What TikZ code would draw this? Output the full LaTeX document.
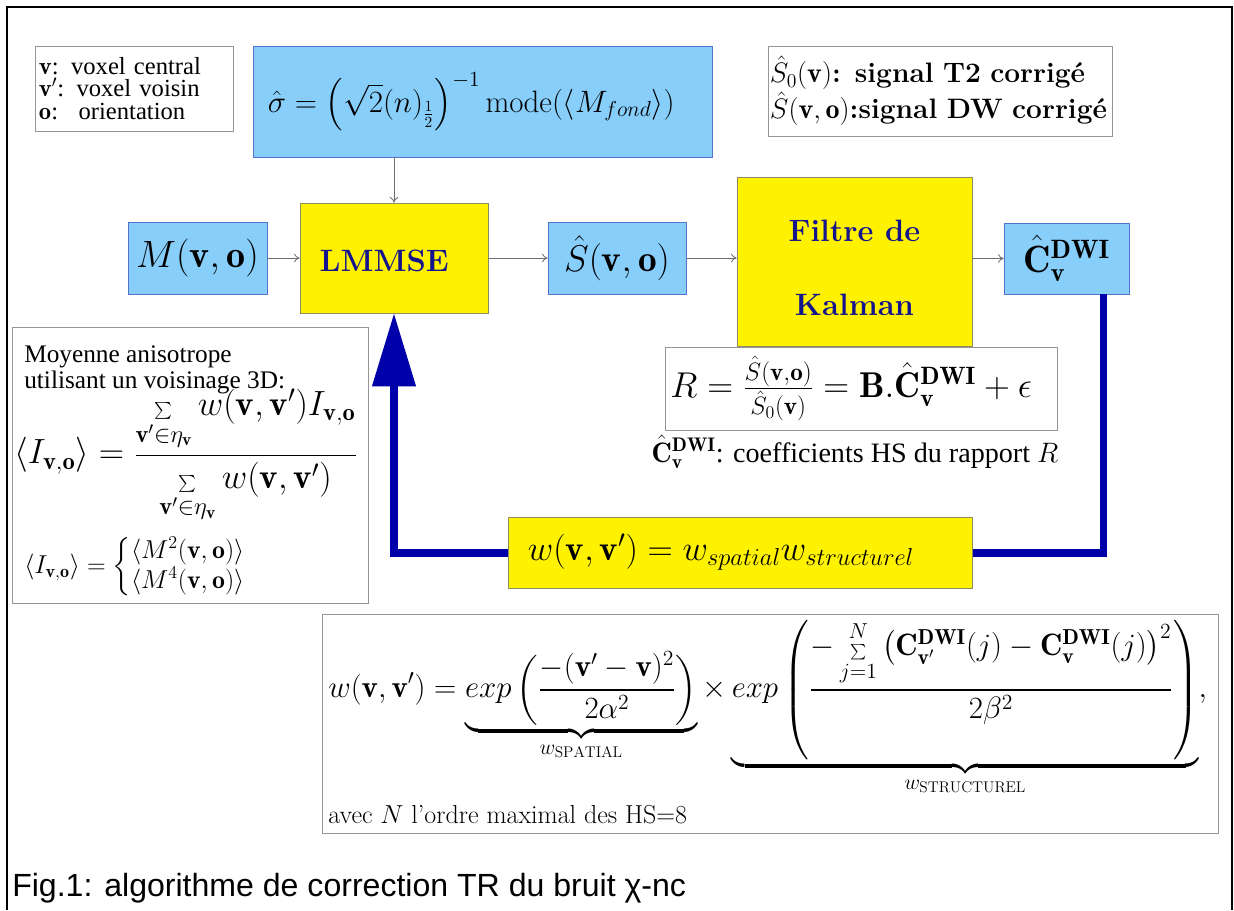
\documentclass[tikz,border=0pt]{standalone}
\usepackage{fix-cm}
\usepackage{amsmath}
\usepackage{fontspec}
\newfontfamily\timesfont{Liberation Serif}
\newfontfamily\arialfont{Liberation Sans}
\usetikzlibrary{arrows.meta}
\definecolor{skyfill}{RGB}{135,206,250}
\definecolor{skyedge}{RGB}{85,115,205}
\definecolor{yedge}{RGB}{140,140,95}
\definecolor{legedge}{RGB}{150,150,150}
\definecolor{flowgray}{RGB}{110,110,110}
\definecolor{fbblue}{RGB}{0,0,170}
\definecolor{procblue}{RGB}{20,20,140}
\newcommand{\bfv}{\mathbf{v}}
\newcommand{\bfo}{\mathbf{o}}
\newcommand{\Cdwi}{\hat{\mathbf{C}}_{\mathbf{v}}^{\mathbf{DWI}}}
\newcommand{\tinysum}{\mathop{\scriptscriptstyle\sum}}
\begin{document}
\begin{tikzpicture}[x=0.025cm,y=-0.025cm,
  bluebox/.style={draw=skyedge, fill=skyfill, inner sep=0pt},
  yellowbox/.style={draw=yedge, fill=yellow, inner sep=0pt},
  legendbox/.style={draw=legedge, fill=white, inner sep=0pt},
  procname/.style={text=procblue, font=\bfseries\fontsize{22}{53}\selectfont, align=center},
  flow/.style={draw=flowgray, line width=0.6pt, -{To[length=4pt,width=6pt]}},
  feedback/.style={draw=fbblue, line width=5pt, -{Triangle[length=52pt,width=30pt]}}]
\useasboundingbox (0,0) rectangle (1234,910);
% cadre
\draw[line width=1.2pt] (7,910) -- (7,7) -- (1232,7) -- (1232,910);

% legendes du haut
\node[legendbox, minimum width=4.95cm, minimum height=2.125cm, text width=4.75cm, align=left, font=\timesfont\fontsize{17.5}{16}\selectfont] (vlegend) at (134,88.5) {$\bfv$: voxel central\\$\bfv'$: voxel voisin\\$\bfo$:~ orientation};
\node[bluebox, minimum width=11.475cm, minimum height=2.775cm, font=\fontsize{22}{26}\selectfont] (sigma) at (482.5,101.5) {$\hat\sigma=\left(\sqrt{2}(n)_{\frac{1}{2}}\right)^{-1}\mathrm{mode}(\langle M_{fond}\rangle)$\kern16pt};
\node[legendbox, minimum width=8.6cm, minimum height=2.25cm, text width=8.5cm, align=left, font=\bfseries\fontsize{20}{25.5}\selectfont] (slegend) at (940,91) {$\hat S_0(\bfv)$: signal T2 corrigé\\$\hat S(\bfv,\bfo)$:signal DW corrigé};

% chaine de traitement
\node[bluebox, minimum width=3.475cm, minimum height=1.8cm, font=\fontsize{27}{31}\selectfont] (Mvo) at (197.5,258) {$M(\bfv,\bfo)$};
\node[yellowbox, minimum width=4.7cm, minimum height=2.75cm, procname, font=\bfseries\fontsize{22}{26}\selectfont] (lmmse) at (394,258) {\rule{0pt}{20pt}LMMSE\hspace{14pt}};
\node[bluebox, minimum width=3.45cm, minimum height=1.8cm, font=\fontsize{26.5}{31}\selectfont] (Svo) at (617,258) {$\hat S(\bfv,\bfo)$};
\node[yellowbox, minimum width=5.875cm, minimum height=4.225cm, procname] (kalman) at (854.5,261.5) {\rule{0pt}{24pt}Filtre de\\Kalman};
\node[bluebox, minimum width=3.125cm, minimum height=1.775cm, font=\fontsize{27}{31}\selectfont] (cdwi) at (1066.5,258.5) {$\Cdwi$};
\node[legendbox, minimum width=9.8cm, minimum height=2.075cm, font=\fontsize{25.5}{30}\selectfont] (ratio) at (861,388.5) {$R=\frac{\hat S(\bfv,\bfo)}{\hat S_0(\bfv)}=\mathbf{B}.\Cdwi+\epsilon$\kern14pt};
\node[inner sep=0pt, font=\fontsize{20}{24}\selectfont] (cdwinote) at (855,452) {$\Cdwi$\timesfont: coefficients HS du rapport $R$};

\draw[flow] (lmmse.north |- sigma.south) -- (lmmse.north);
\draw[flow] (Mvo) -- (lmmse);
\draw[flow] (lmmse) -- (Svo);
\draw[flow] (Svo.east) -- (Svo.east -| kalman.west);
\draw[flow] (kalman.east |- cdwi.west) -- (cdwi.west);

% retour des poids
\coordinate (fbr) at (1103,553);
\coordinate (fbl) at (394,553);
\draw[feedback] (cdwi.south -| fbr) -- (fbr) -- (fbl) -- (lmmse.south);
\node[yellowbox, minimum width=11.6cm, minimum height=1.775cm, text width=10.6cm, align=left, font=\fontsize{24.9}{29}\selectfont] (wbox) at (740,552.5) {$w(\bfv,\bfv')=w_{spatial}w_{structurel}$};

% moyenne anisotrope
\node[legendbox, minimum width=8.9cm, minimum height=6.9cm] (avgbox) at (190,465) {};
\node[anchor=north west, align=left, inner sep=0pt, font=\timesfont\fontsize{18}{18.5}\selectfont] (avgtext) at (24,345) {Moyenne anisotrope\\utilisant un voisinage 3D:};
\node[anchor=west, inner sep=0pt, font=\fontsize{24.9}{29}\selectfont] (avgeq) at (14,456) {$\langle I_{\bfv,\bfo}\rangle=\dfrac{\tinysum\limits_{\bfv'\in\eta_{\bfv}} w(\bfv,\bfv')I_{\bfv,\bfo}}{\tinysum\limits_{\bfv'\in\eta_{\bfv}} w(\bfv,\bfv')}$};
\node[anchor=west, inner sep=0pt, font=\fontsize{18.4}{21}\selectfont] (mcases) at (24,567) {$\langle I_{\bfv,\bfo}\rangle=\left\{\begin{array}{@{}l@{}}\langle M^2(\bfv,\bfo)\rangle\\\langle M^4(\bfv,\bfo)\rangle\end{array}\right.$};

% poids complets
\node[legendbox, minimum width=22.4cm, minimum height=5.475cm] (wfull) at (770,723.5) {};
\node[anchor=west, inner sep=0pt, font=\fontsize{22}{26}\selectfont] (weq) at (328,708) {$\displaystyle w(\bfv,\bfv')=\underbrace{exp\left(\frac{-(\bfv'-\bfv)^2}{2\alpha^2}\right)}_{w_{\mathrm{SPATIAL}}}\times\underbrace{exp\left(\frac{-\tinysum\limits_{j=1}^{N}\left(\mathbf{C}_{\bfv'}^{\mathbf{DWI}}(j)-\mathbf{C}_{\bfv}^{\mathbf{DWI}}(j)\right)^2}{2\beta^2}\right)}_{w_{\mathrm{STRUCTUREL}}},$};
\node[anchor=base west, inner sep=0pt, font=\fontsize{18.5}{22}\selectfont] (wnote) at (328,823) {avec $N$ l'ordre maximal des HS=8};

\node[anchor=base west, inner sep=0pt, font=\arialfont\fontsize{22.8}{27}\selectfont] (caption) at (12,896) {Fig.1: algorithme de correction TR du bruit χ-nc};
\end{tikzpicture}
\end{document}
